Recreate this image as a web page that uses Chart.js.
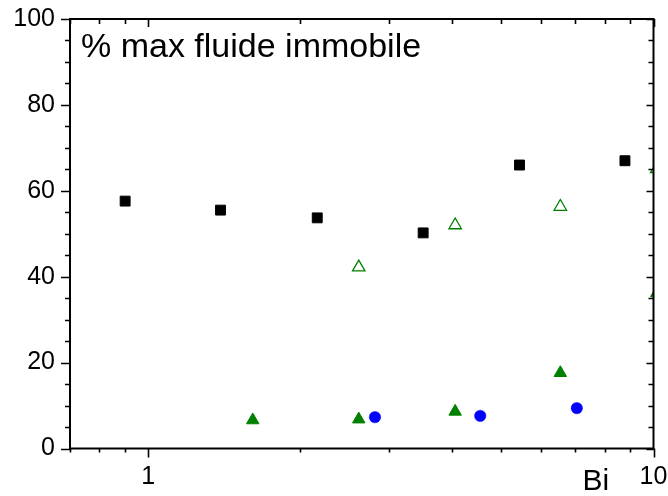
<!DOCTYPE html>
<html>
<head>
<meta charset="utf-8">
<script src="https://cdn.jsdelivr.net/npm/chart.js@4.4.1/dist/chart.umd.min.js"></script>
<style>
  html, body { margin: 0; padding: 0; background: #ffffff; }
  #wrap { width: 668px; height: 496px; }
</style>
</head>
<body>
<div id="wrap"><canvas id="c" width="668" height="496"></canvas></div>
<script>
// ---- data ----
const squareBi   = [0.9, 1.39, 2.16, 3.5, 5.43, 8.78];
const squarePct  = [57.6, 55.5, 53.7, 50.2, 66.0, 67.0];
const openTriBi  = [2.61, 4.05, 6.54, 10.15];
const openTriPct = [42.2, 52.0, 56.3, 65.1];
const fullTriBi  = [1.61, 2.61, 4.05, 6.54, 10.15];
const fullTriPct = [6.6, 6.8, 8.6, 17.6, 36.2];
const circleBi   = [2.81, 4.54, 7.05];
const circlePct  = [7.3, 7.6, 9.4];

const xTickValues = [0.7, 0.8, 0.9, 1, 2, 3, 4, 5, 6, 7, 8, 9, 10];
const xTickLabels = ['', '', '', '1', '', '', '', '', '', '', '', '', '10'];
const yTickValues = [0,5,10,15,20,25,30,35,40,45,50,55,60,65,70,75,80,85,90,95,100];
const yMajor = [0, 20, 40, 60, 80, 100];
const xMajor = [1, 10];
const plotTitle = '% max fluide immobile';
const xTitle = 'Bi';

const FONT = "'Liberation Sans', Arial, Helvetica, sans-serif";

function pts(xs, ys) { return xs.map((x, i) => ({ x: x, y: ys[i] })); }

const framePlugin = {
  id: 'frame',
  afterDatasetsDraw(chart) {
    const ctx = chart.ctx;
    const a = chart.chartArea;
    const xs = chart.scales.x, ys = chart.scales.y;
    ctx.save();
    ctx.strokeStyle = '#000';
    ctx.lineWidth = 2;
    ctx.lineCap = 'butt';
    ctx.beginPath();
    ctx.rect(a.left, a.top, a.right - a.left, a.bottom - a.top);
    ctx.stroke();
    ctx.lineWidth = 1.6;
    ctx.beginPath();
    yTickValues.forEach(v => {
      const y = Math.round(ys.getPixelForValue(v)) + 0.5;
      const major = yMajor.includes(v);
      const outL = major ? 9 : 5;
      const inR = major ? 7 : 5;
      ctx.moveTo(a.left - outL, y); ctx.lineTo(a.left, y);
      ctx.moveTo(a.right, y); ctx.lineTo(a.right - inR, y);
    });
    xTickValues.forEach(v => {
      const x = Math.round(xs.getPixelForValue(v)) + 0.5;
      const major = xMajor.includes(v);
      const outB = major ? 9 : 4;
      const inT = major ? 8 : 5;
      ctx.moveTo(x, a.bottom); ctx.lineTo(x, a.bottom + outB);
      ctx.moveTo(x, a.top); ctx.lineTo(x, a.top + inT);
    });
    ctx.stroke();
    ctx.fillStyle = '#000';
    ctx.textBaseline = 'alphabetic';
    ctx.textAlign = 'left';
    ctx.font = '34px ' + FONT;
    ctx.fillText(plotTitle, a.left + 11, 57);
    ctx.font = '30px ' + FONT;
    ctx.fillText(xTitle, 582.5, 490);
    ctx.restore();
  }
};

const common = { showLine: false, clip: 0 };

new Chart(document.getElementById('c'), {
  type: 'scatter',
  data: {
    datasets: [
      Object.assign({
        label: 'squares', data: pts(squareBi, squarePct),
        pointStyle: 'rect', pointRadius: 7, borderWidth: 1,
        backgroundColor: '#000000', borderColor: '#000000'
      }, common),
      Object.assign({
        label: 'open triangles', data: pts(openTriBi, openTriPct),
        pointStyle: 'triangle', pointRadius: 7.2, borderWidth: 1.3,
        backgroundColor: 'rgba(255,255,255,0)', borderColor: '#008000'
      }, common),
      Object.assign({
        label: 'filled triangles', data: pts(fullTriBi, fullTriPct),
        pointStyle: 'triangle', pointRadius: 7.2, borderWidth: 1,
        backgroundColor: '#008000', borderColor: '#008000'
      }, common),
      Object.assign({
        label: 'circles', data: pts(circleBi, circlePct),
        pointStyle: 'circle', pointRadius: 5.7, borderWidth: 0.5,
        backgroundColor: '#0000ff', borderColor: '#0000ff'
      }, common)
    ]
  },
  options: {
    responsive: false,
    animation: false,
    events: [],
    layout: { autoPadding: false, padding: { top: 19, right: 14.5, left: 0, bottom: 0 } },
    plugins: { legend: { display: false }, tooltip: { enabled: false }, title: { display: false } },
    scales: {
      x: {
        type: 'logarithmic',
        min: 0.7, max: 10,
        afterBuildTicks(scale) { scale.ticks = xTickValues.map(v => ({ value: v })); },
        afterFit(scale) { scale.height = 47.5; scale.paddingLeft = 0; scale.paddingRight = 0; },
        ticks: {
          autoSkip: false, maxRotation: 0, minRotation: 0,
          padding: 14, color: '#000',
          font: { family: FONT, size: 25 },
          callback: function (v, i) { return xTickLabels[i]; }
        },
        grid: { display: false, drawTicks: false },
        border: { display: false }
      },
      y: {
        type: 'linear',
        min: 0, max: 100,
        afterBuildTicks(scale) { scale.ticks = yMajor.map(v => ({ value: v })); },
        afterFit(scale) { scale.width = 70; scale.paddingTop = 0; scale.paddingBottom = 0; },
        ticks: {
          padding: 15, color: '#000',
          font: { family: FONT, size: 25 },
          callback: function (v) { return String(v); }
        },
        grid: { display: false, drawTicks: false },
        border: { display: false }
      }
    }
  },
  plugins: [framePlugin]
});
</script>
</body>
</html>
